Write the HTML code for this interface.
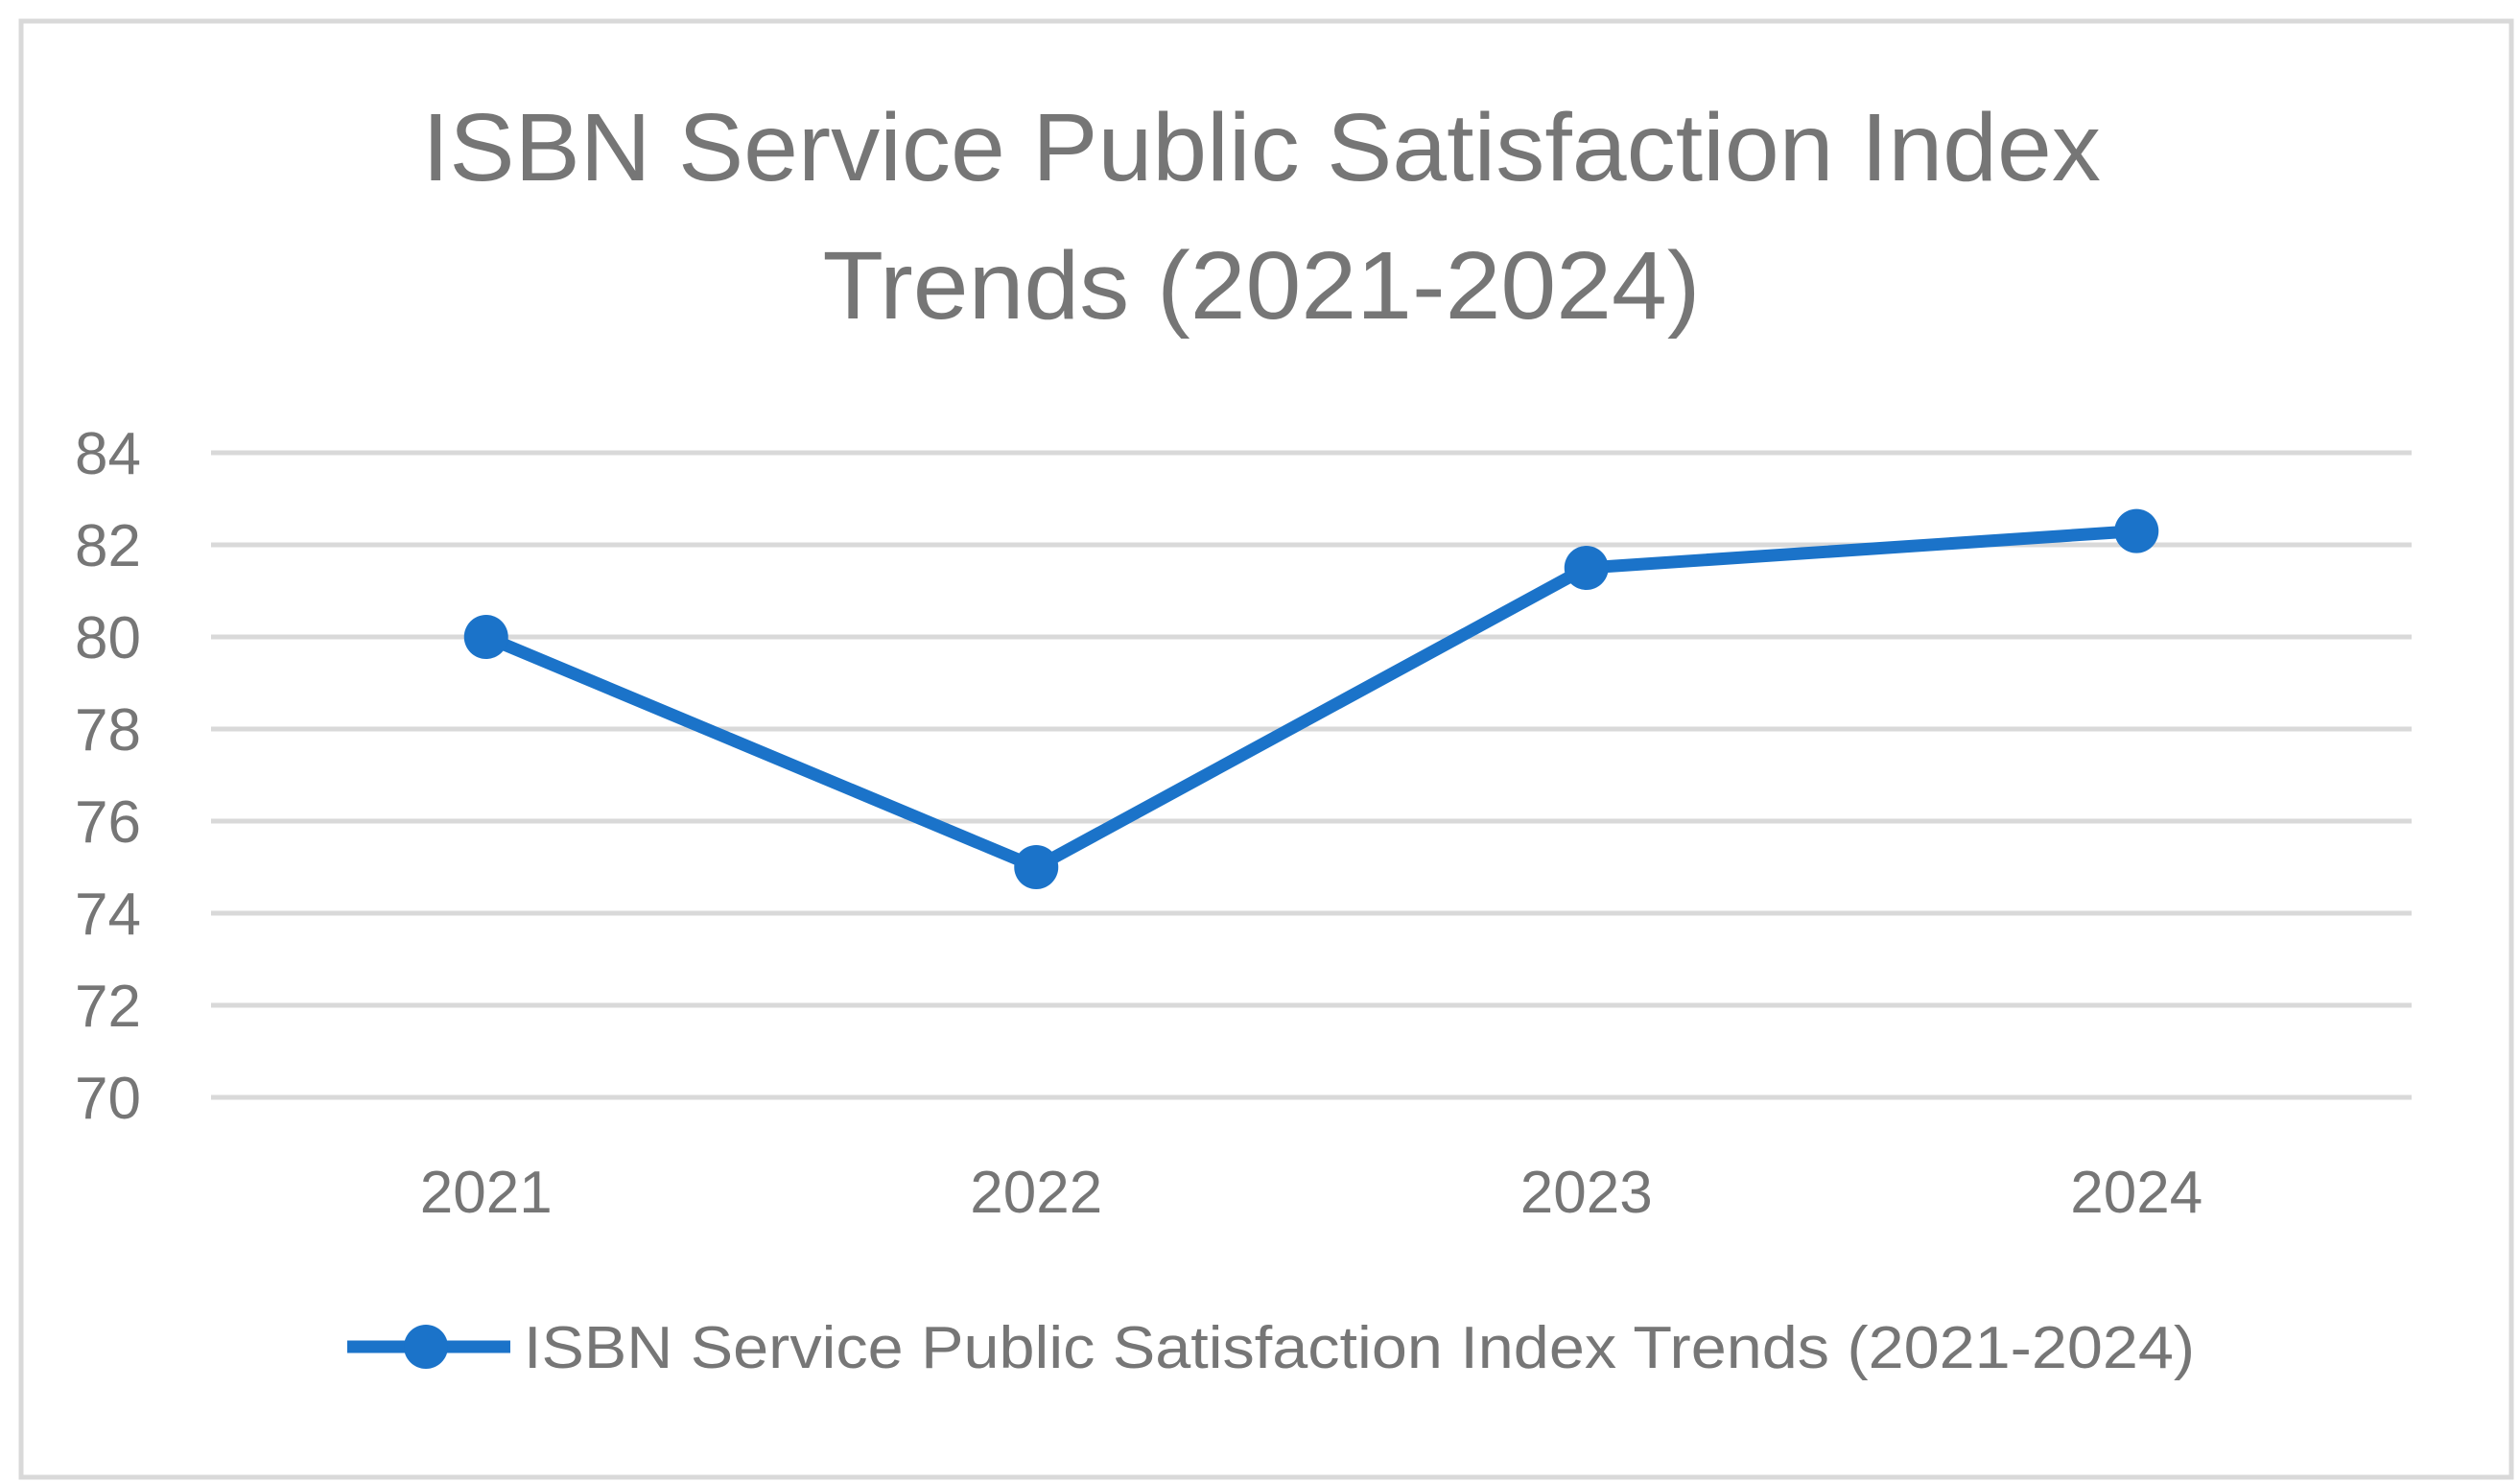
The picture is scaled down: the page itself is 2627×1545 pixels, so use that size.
<!DOCTYPE html>
<html><head><meta charset="utf-8"><style>
html,body{margin:0;padding:0;background:#fff}
svg{display:block;font-family:"Liberation Sans",sans-serif}
</style></head><body>
<svg id="chart" width="2627" height="1545" viewBox="0 0 2627 1545">
<rect x="22" y="22" width="2596" height="1518" fill="#fff" stroke="#d9d9d9" stroke-width="5"/>
<g>
<text x="1315" y="188" text-anchor="middle" font-size="100" fill="#767676" textLength="1750" lengthAdjust="spacingAndGlyphs">ISBN Service Public Satisfaction Index</text>
<text x="1315" y="332" text-anchor="middle" font-size="100" fill="#767676" textLength="915" lengthAdjust="spacingAndGlyphs">Trends (2021-2024)</text>
</g>
<g id="grid"></g>
<g id="yticks"></g>
<g id="xticks"></g>
<g id="series"></g>
<g>
<line x1="362" y1="1404" x2="532" y2="1404" stroke="#1b73c9" stroke-width="13"/>
<circle cx="444" cy="1404" r="23" fill="#1b73c9"/>
<text x="546" y="1426" font-size="62" fill="#767676" textLength="1742" lengthAdjust="spacingAndGlyphs">ISBN Service Public Satisfaction Index Trends (2021-2024)</text>
</g>
</svg>
<script>
const categories = ["2021","2022","2023","2024"];
const values = [80, 75, 81.5, 82.3];
const yTicks = [70,72,74,76,78,80,82,84];
const NS="http://www.w3.org/2000/svg";
const plotL=220, plotR=2514, yTop=472, yBot=1144, yMin=70, yMax=84;
const yScale=v=>yBot-(v-yMin)/(yMax-yMin)*(yBot-yTop);
const band=(plotR-plotL)/categories.length;
const xScale=i=>plotL+band*(i+0.5);
function mk(tag,attrs,parent){const e=document.createElementNS(NS,tag);for(const k in attrs)e.setAttribute(k,attrs[k]);parent.appendChild(e);return e;}
const grid=document.getElementById('grid'),yt=document.getElementById('yticks'),xt=document.getElementById('xticks'),ser=document.getElementById('series');
yTicks.forEach(v=>{
  const l=mk('line',{x1:plotL,x2:plotR,y1:yScale(v),y2:yScale(v),stroke:'#d9d9d9','stroke-width':5},grid);
  
  
  const t=mk('text',{x:147,y:yScale(v)+22,'text-anchor':'end','font-size':62,fill:'#767676'},yt);
  t.textContent=v;
  
  
});
categories.forEach((c,i)=>{
  const t=mk('text',{x:xScale(i),y:1264,'text-anchor':'middle','font-size':62,fill:'#767676'},xt);
  t.textContent=c;
  
  
});
const pts=values.map((v,i)=>xScale(i)+','+yScale(v)).join(' ');
const pl=mk('polyline',{points:pts,fill:'none',stroke:'#1b73c9','stroke-width':13,'stroke-linejoin':'round'},ser);


values.forEach((v,i)=>{
  const c=mk('circle',{cx:xScale(i),cy:yScale(v),r:23,fill:'#1b73c9'},ser);
  
  
});
</script>
</body></html>
